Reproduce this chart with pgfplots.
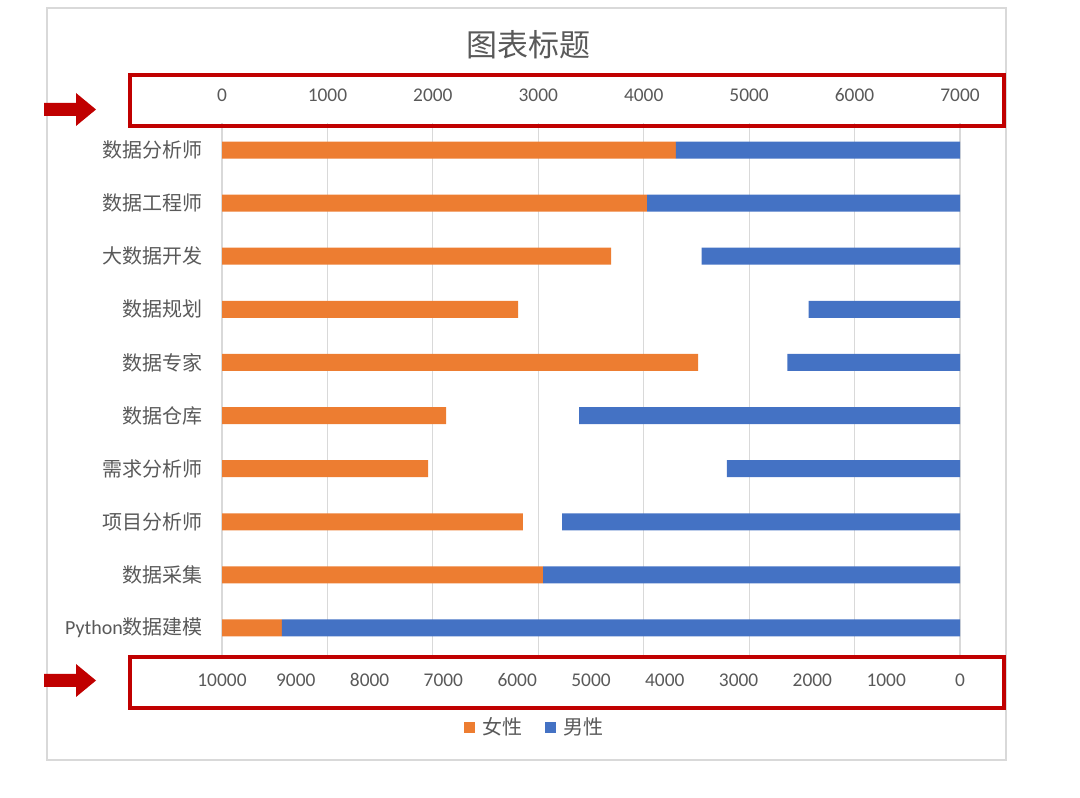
\documentclass[border=0pt]{standalone}
\usepackage{fontspec}
\setmainfont{Carlito}
\newfontfamily\cjk{Noto Sans CJK SC}
\usepackage{pgfplots}
\pgfplotsset{compat=1.18}

\definecolor{femc}{HTML}{ED7D31}
\definecolor{malec}{HTML}{4472C4}
\definecolor{gridc}{HTML}{D9D9D9}
\definecolor{txtc}{HTML}{595959}
\definecolor{markc}{HTML}{C00000}
\definecolor{framec}{HTML}{D9D9D9}

% shared geometry of the two overlaid axes
\pgfplotsset{
  halfaxis/.style={
    at={(111pt,71.25pt)}, anchor=south west,
    scale only axis, width=369pt, height=265.5pt,
    xbar, bar width=8.5pt, bar shift=0pt,
    ymin=-0.5, ymax=9.5, y dir=reverse,
    axis line style={draw=none},
    major tick length=0pt,
    scaled x ticks=false,
    tick label style={text=txtc, font=\fontsize{9.7pt}{11pt}\selectfont},
    /pgf/number format/assume math mode=true,
    /pgf/number format/1000 sep={},
  },
}

\begin{document}
\begin{tikzpicture}
\path (0pt,0pt) rectangle (540pt,398.5pt);

\begin{scope}[x=0.5pt, y=-0.5pt, shift={(0pt,398.5pt)}]
  \draw[framec, line width=0.6pt] (47,8) rectangle (1006,760);
  \node[text=txtc, font=\cjk\fontsize{15.5pt}{18pt}\selectfont] at (528,45) {图表标题};
\end{scope}

% women: top axis 0..7000
\begin{axis}[halfaxis,
  axis x line*=top, axis y line*=left,
  xmin=0, xmax=7000, xtick={0,1000,...,7000},
  xmajorgrids, grid style={gridc, line width=0.6pt},
  xticklabel style={anchor=center, yshift=14pt},
  ytick={0,...,9},
  yticklabels={数据分析师,数据工程师,大数据开发,数据规划,数据专家,数据仓库,需求分析师,项目分析师,数据采集,{\rmfamily Python}数据建模},
  yticklabel style={font=\cjk\fontsize{10pt}{12pt}\selectfont, xshift=-6pt},
]
\addplot[fill=femc, draw=none] coordinates {
  (4306,0) (4031,1) (3690,2) (2808,3) (4515,4)
  (2125,5) (1954,6) (2855,7) (3045,8) (569,9)
};
\end{axis}

% men: bottom axis 10000..0
\begin{axis}[halfaxis,
  axis x line*=bottom, axis y line=none, ytick=\empty,
  x dir=reverse, xmin=0, xmax=10000, xtick={0,1000,...,10000},
  xticklabel style={anchor=center, yshift=-12.75pt},
  legend style={at={(0.425,-0.138)}, anchor=center, draw=none, fill=none,
    legend columns=2, font=\cjk\fontsize{10pt}{12pt}\selectfont, text=txtc,
    /tikz/every odd column/.append style={column sep=2pt},
    /tikz/every even column/.append style={column sep=9pt}},
  legend image code/.code={\fill[#1] (0pt,-2.75pt) rectangle (5.5pt,2.75pt);},
]
\addlegendimage{fill=femc, draw=none}
\addlegendentry{女性}
\addplot[fill=malec, draw=none] coordinates {
  (3850,0) (4240,1) (3500,2) (2050,3) (2340,4)
  (5160,5) (3160,6) (5390,7) (5650,8) (9190,9)
};
\addlegendentry{男性}
\end{axis}

% red marks around the two value axes
\begin{scope}[x=0.5pt, y=-0.5pt, shift={(0pt,398.5pt)}]
  \draw[markc, line width=1.75pt] (130,75) rectangle (1004,126);
  \draw[markc, line width=1.75pt] (130,657) rectangle (1004,708);
  \fill[markc] (44,103)--(76,103)--(76,93)--(96,109.5)--(76,126)--(76,116)--(44,116)--cycle;
  \fill[markc] (44,674)--(76,674)--(76,664)--(96,680.5)--(76,697)--(76,687)--(44,687)--cycle;
\end{scope}
\end{tikzpicture}
\end{document}
